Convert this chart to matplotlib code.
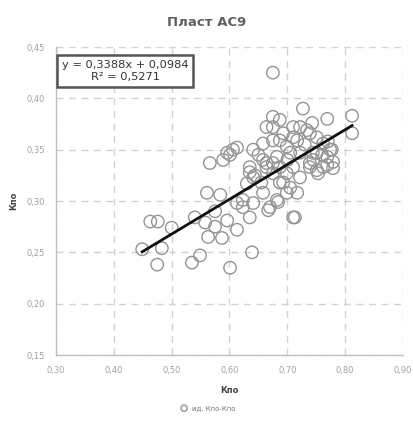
import matplotlib
matplotlib.use("Agg")
import matplotlib.pyplot as plt
import numpy as np
from matplotlib.ticker import FixedLocator, FuncFormatter

plt.rcParams['font.family'] = ['DejaVu Sans']

kpo_x = [0.675, 0.727, 0.769, 0.675, 0.812, 0.812, 0.449, 0.463, 0.476, 0.475,
         0.483, 0.500, 0.535, 0.549, 0.601, 0.540, 0.561, 0.584, 0.558, 0.563,
         0.575, 0.587, 0.596, 0.613, 0.639, 0.566, 0.589, 0.601, 0.613, 0.635,
         0.644, 0.675, 0.693, 0.705, 0.717, 0.713, 0.667, 0.684, 0.635, 0.613,
         0.641, 0.658, 0.623, 0.739, 0.753, 0.769, 0.779, 0.641, 0.658, 0.675,
         0.687, 0.675, 0.693, 0.710, 0.717, 0.734, 0.743, 0.751, 0.762, 0.699,
         0.682, 0.722, 0.744, 0.774, 0.635, 0.658, 0.751, 0.769, 0.777, 0.779,
         0.762, 0.751, 0.739, 0.699, 0.687, 0.641, 0.664, 0.722, 0.739, 0.710,
         0.687, 0.705, 0.664, 0.675, 0.687, 0.699, 0.710, 0.722, 0.682, 0.596,
         0.606, 0.630, 0.670, 0.710, 0.664, 0.575, 0.623, 0.650, 0.730, 0.760,
         0.700, 0.655, 0.770, 0.745]
kpo_y = [0.425, 0.390, 0.380, 0.382, 0.383, 0.366, 0.253, 0.280, 0.280, 0.238,
         0.254, 0.274, 0.240, 0.247, 0.235, 0.284, 0.308, 0.306, 0.279, 0.265,
         0.275, 0.264, 0.281, 0.298, 0.250, 0.337, 0.340, 0.345, 0.352, 0.328,
         0.325, 0.337, 0.318, 0.313, 0.308, 0.284, 0.291, 0.299, 0.284, 0.272,
         0.298, 0.308, 0.301, 0.333, 0.327, 0.335, 0.332, 0.350, 0.356, 0.372,
         0.379, 0.359, 0.366, 0.372, 0.359, 0.369, 0.376, 0.362, 0.356, 0.353,
         0.343, 0.347, 0.347, 0.350, 0.333, 0.340, 0.347, 0.343, 0.350, 0.338,
         0.333, 0.330, 0.337, 0.308, 0.318, 0.323, 0.372, 0.372, 0.366, 0.362,
         0.359, 0.347, 0.333, 0.327, 0.333, 0.327, 0.333, 0.323, 0.301, 0.347,
         0.350, 0.317, 0.294, 0.284, 0.337, 0.290, 0.294, 0.345, 0.355, 0.345,
         0.340, 0.318, 0.358, 0.340]

slope = 0.3388
intercept = 0.0984
r2 = 0.5271

x_ticks = [0.30, 0.40, 0.50, 0.60, 0.70, 0.80, 0.90]
y_ticks = [0.15, 0.20, 0.25, 0.30, 0.35, 0.40, 0.45]

title = "Пласт АС9"
x_label = "Кпо"
y_label = "Кпо"
legend_label = "ид. Кпо-Кпо"

fig = plt.figure(figsize=(4.13, 4.21), dpi=100)
ax = fig.add_axes([56/413, 1-355/421, (403-56)/413, (355-47)/421])

ax.scatter(kpo_x, kpo_y, s=80, facecolors='none', edgecolors='#949494',
           linewidths=1.0, label=legend_label, zorder=3)

xs = np.array([min(kpo_x), max(kpo_x)])
ax.plot(xs, slope*xs + intercept, color='#111111', lw=2.0, zorder=4)

ax.set_xlim(x_ticks[0], x_ticks[-1])
ax.set_ylim(y_ticks[0], y_ticks[-1])
ax.xaxis.set_major_locator(FixedLocator(x_ticks))
ax.yaxis.set_major_locator(FixedLocator(y_ticks))
fmt = FuncFormatter(lambda v, p: f"{v:.2f}".replace('.', ','))
ax.xaxis.set_major_formatter(fmt)
ax.yaxis.set_major_formatter(fmt)
ax.tick_params(axis='both', length=0, labelsize=6, colors='#a0a0a0', pad=8)
ax.grid(True, linestyle=(0, (5, 4)), color='#d2d2d2', lw=1.0)
for s in ['top', 'right']:
    ax.spines[s].set_visible(False)
for s in ['left', 'bottom']:
    ax.spines[s].set_color('#c0c0c0')
    ax.spines[s].set_linewidth(1.0)

ax.set_xlabel(x_label, fontsize=6, fontweight='bold', color='#444444', labelpad=8)
ax.set_ylabel(y_label, fontsize=6, fontweight='bold', color='#444444', labelpad=6)
fig.suptitle(title, x=0.5, y=1-22/421, va='center', fontsize=9.5,
             fontweight='bold', color='#606060')

eq = f"y = {slope:.4f}x + {intercept:.4f}".replace('.', ',') + "\n" + \
     f"R² = {r2:.4f}".replace('.', ',')
ax.text(0.30 + (125-56)/578.3, 0.45 - (71-47)/1027, eq, ha='center', va='center',
        fontsize=8.2, color='#333333', linespacing=1.25, zorder=5,
        bbox=dict(boxstyle='square,pad=0.45', fc='white', ec='#555555', lw=1.8))

fig.legend(loc='center', bbox_to_anchor=(0.5, 1-408/421), frameon=False,
           fontsize=5, handletextpad=0.2, markerscale=0.5, labelcolor='#777777')

fig.savefig("out.png", dpi=100)
